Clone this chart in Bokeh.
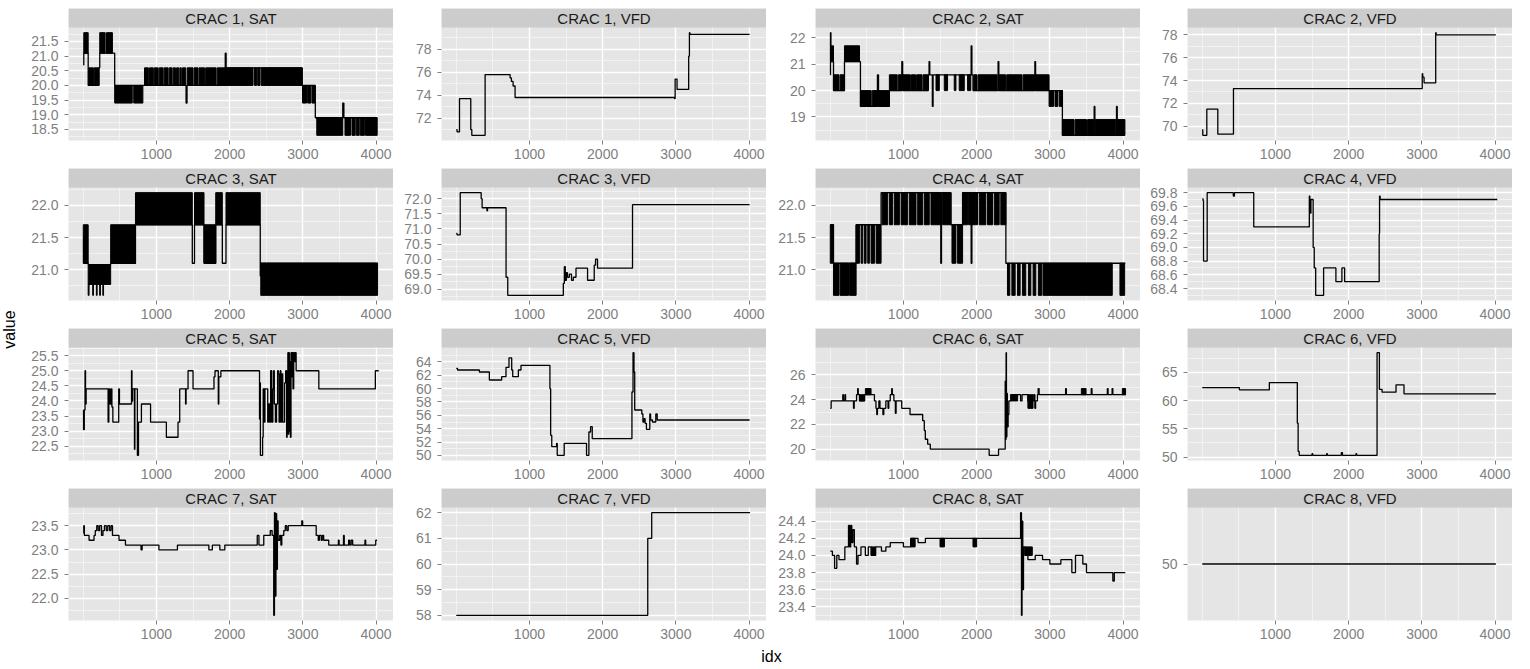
import math
from bokeh.plotting import figure
from bokeh.layouts import row, column
from bokeh.models import Range1d, FixedTicker, PrintfTickFormatter, Label
from bokeh.embed import file_html
from bokeh.resources import INLINE

# ---------------- data ----------------
x_ticks = [1000, 2000, 3000, 4000]
x_minor = [0, 500, 1500, 2500, 3500]

c1_sat_idx = [1, 8, 68, 215, 226, 430, 1405, 1418, 1940, 1952, 2990, 3170, 3545, 3560, 4015]
c1_sat_val = [20.7, 21.1, 20.0, 20.6, 21.1, 20.0, 19.4, 20.0, 21.1, 20.6, 20.0, 18.9, 19.4, 18.9, 18.9]
c1_sat_bands = [(8, 68, 21.1, 21.8), (75, 140, 20.0, 20.6), (150, 215, 20.0, 20.6),
                (226, 300, 21.1, 21.8), (318, 399, 21.1, 21.8),
                (430, 670, 19.4, 20.0), (690, 815, 19.4, 20.0),
                (837, 890, 20.0, 20.6), (905, 958, 20.0, 20.6), (972, 1025, 20.0, 20.6),
                (1040, 1092, 20.0, 20.6), (1106, 1160, 20.0, 20.6), (1175, 1215, 20.0, 20.6),
                (1230, 1260, 20.0, 20.6), (1275, 1305, 20.0, 20.6), (1320, 1340, 20.0, 20.6),
                (1356, 1400, 20.0, 20.6), (1420, 1500, 20.0, 20.6), (1515, 1568, 20.0, 20.6),
                (1582, 1658, 20.0, 20.6), (1672, 1815, 20.0, 20.6), (1830, 2320, 20.0, 20.6),
                (2340, 2368, 20.0, 20.6), (2383, 2414, 20.0, 20.6), (2430, 2990, 20.0, 20.6),
                (2995, 3050, 19.4, 20.0), (3065, 3110, 19.4, 20.0), (3125, 3165, 19.4, 20.0),
                (3190, 3545, 18.3, 18.9), (3575, 3650, 18.3, 18.9), (3670, 3715, 18.3, 18.9),
                (3730, 3770, 18.3, 18.9), (3785, 3840, 18.3, 18.9), (3855, 4015, 18.3, 18.9)]
c1_sat_ticks = [18.5, 19.0, 19.5, 20.0, 20.5, 21.0, 21.5]

c1_vfd_idx = [1, 12, 45, 199, 213, 395, 736, 754, 777, 804, 2983, 2990, 3016, 3175, 3185, 3192, 4007]
c1_vfd_val = [71.0, 70.8, 73.7, 71.0, 70.5, 75.8, 75.5, 75.2, 74.8, 73.8, 73.7, 75.4, 74.5, 77.4, 79.45, 79.3, 79.3]
c1_vfd_ticks = [72, 74, 76, 78]

c2_sat_idx = [1, 4, 10, 45, 195, 413, 645, 660, 808, 978, 990, 1340, 1350, 1360, 1395, 1405, 1925, 1935,
              1950, 2293, 2303, 2795, 2805, 2989, 3171, 3605, 3615, 3910, 3920, 4025]
c2_sat_val = [20.6, 22.2, 21.1, 20.0, 21.1, 19.4, 20.6, 19.4, 20.0, 21.1, 20.0, 20.6, 21.1, 20.6, 19.4, 20.6,
              21.7, 20.6, 20.0, 21.1, 20.0, 21.1, 20.0, 20.0, 18.3, 19.4, 18.3, 19.4, 18.3, 18.3]
c2_sat_bands = [(10, 45, 21.1, 21.7), (45, 120, 20.0, 20.6), (135, 195, 20.0, 20.6),
                (195, 400, 21.1, 21.7), (413, 560, 19.4, 20.0), (575, 640, 19.4, 20.0), (665, 808, 19.4, 20.0),
                (808, 915, 20.0, 20.6), (930, 975, 20.0, 20.6), (995, 1095, 20.0, 20.6),
                (1110, 1165, 20.0, 20.6), (1180, 1255, 20.0, 20.6), (1270, 1340, 20.0, 20.6),
                (1445, 1490, 20.0, 20.6), (1558, 1603, 20.0, 20.6), (1694, 1717, 20.0, 20.6),
                (1762, 1831, 20.0, 20.6), (1876, 1920, 20.0, 20.6), (1960, 2005, 20.0, 20.6),
                (2020, 2280, 20.0, 20.6), (2310, 2395, 20.0, 20.6), (2410, 2620, 20.0, 20.6),
                (2635, 2790, 20.0, 20.6), (2810, 2989, 20.0, 20.6),
                (2989, 3050, 19.4, 20.0), (3070, 3110, 19.4, 20.0), (3130, 3171, 19.4, 20.0),
                (3171, 3330, 18.3, 18.9), (3345, 3500, 18.3, 18.9), (3515, 3600, 18.3, 18.9),
                (3620, 3900, 18.3, 18.9), (3925, 4025, 18.3, 18.9)]
c2_sat_ticks = [19, 20, 21, 22]

c2_vfd_idx = [1, 8, 63, 213, 427, 3005, 3012, 3030, 3189, 3195, 4010]
c2_vfd_val = [69.7, 69.2, 71.5, 69.3, 73.3, 74.6, 74.3, 73.8, 78.2, 78.0, 78.0]
c2_vfd_ticks = [70, 72, 74, 76, 78]

c3_sat_idx = [1, 8, 68, 375, 714, 1490, 1520, 1650, 1810, 1900, 1950, 2418, 2425, 4020]
c3_sat_val = [21.5, 21.1, 21.08, 21.1, 21.7, 21.1, 21.7, 21.1, 21.7, 21.1, 21.7, 20.9, 21.1, 21.1]
c3_sat_bands = [(1, 68, 21.1, 21.7), (68, 375, 20.77, 21.08), (68, 80, 20.6, 20.77), (130, 140, 20.6, 20.77),
                (180, 190, 20.6, 20.77), (225, 235, 20.6, 20.77), (268, 278, 20.6, 20.77),
                (375, 714, 21.1, 21.7), (714, 1490, 21.7, 22.2), (1520, 1650, 21.7, 22.2),
                (1650, 1810, 21.1, 21.7), (1810, 1900, 21.7, 22.2), (1950, 2418, 21.7, 22.2),
                (2425, 4020, 20.6, 21.1)]
c3_sat_ticks = [21.0, 21.5, 22.0]

c3_vfd_idx = [1, 12, 55, 341, 354, 420, 428, 681, 704, 1463, 1477, 1490, 1505, 1520, 1545, 1575, 1600, 1636,
              1794, 1885, 1903, 1930, 2408, 4007]
c3_vfd_val = [70.85, 70.8, 72.2, 72.0, 71.7, 71.6, 71.7, 69.4, 68.8, 69.2, 69.75, 69.3, 69.55, 69.4, 69.5, 69.3,
              69.4, 69.7, 69.3, 69.8, 70.0, 69.7, 71.8, 71.8]
c3_vfd_ticks = [69.0, 69.5, 70.0, 70.5, 71.0, 71.5, 72.0]

c4_sat_idx = [1, 45, 354, 695, 1510, 1520, 1649, 1808, 1925, 1935, 2399, 4030]
c4_sat_val = [21.7, 21.1, 21.7, 22.2, 21.1, 22.2, 21.7, 22.2, 21.1, 22.2, 21.1, 21.1]
c4_sat_bands = [(1, 45, 21.1, 21.7), (45, 120, 20.6, 21.1), (135, 250, 20.6, 21.1), (262, 354, 20.6, 21.1),
                (354, 399, 21.1, 21.7), (422, 445, 21.1, 21.7), (467, 490, 21.1, 21.7), (513, 535, 21.1, 21.7),
                (558, 604, 21.1, 21.7), (627, 695, 21.1, 21.7),
                (709, 785, 21.7, 22.2), (808, 853, 21.7, 22.2), (876, 945, 21.7, 22.2), (968, 1058, 21.7, 22.2),
                (1081, 1172, 21.7, 22.2), (1195, 1263, 21.7, 22.2), (1285, 1353, 21.7, 22.2),
                (1376, 1505, 21.7, 22.2), (1535, 1649, 21.7, 22.2),
                (1663, 1717, 21.1, 21.7), (1740, 1808, 21.1, 21.7),
                (1808, 1876, 21.7, 22.2), (1890, 1925, 21.7, 22.2), (1935, 2012, 21.7, 22.2),
                (2035, 2126, 21.7, 22.2), (2149, 2217, 21.7, 22.2), (2240, 2308, 21.7, 22.2),
                (2330, 2399, 21.7, 22.2),
                (2421, 2453, 20.6, 21.1), (2481, 2526, 20.6, 21.1), (2557, 2594, 20.6, 21.1),
                (2625, 2671, 20.6, 21.1), (2707, 2740, 20.6, 21.1), (2771, 2808, 20.6, 21.1),
                (2843, 2890, 20.6, 21.1), (2907, 3852, 20.6, 21.1), (3957, 4021, 20.6, 21.1)]
c4_sat_ticks = [21.0, 21.5, 22.0]

c4_vfd_idx = [1, 12, 18, 68, 425, 440, 704, 1463, 1470, 1485, 1515, 1530, 1550, 1658, 1826, 1908, 1945,
              2417, 2422, 2430, 4030]
c4_vfd_val = [69.71, 69.68, 68.8, 69.8, 69.75, 69.8, 69.3, 69.75, 69.5, 69.7, 69.0, 68.7, 68.3, 68.7, 68.5,
              68.7, 68.5, 69.2, 69.75, 69.7, 69.7]
c4_vfd_ticks = [68.4, 68.6, 68.8, 69.0, 69.2, 69.4, 69.6, 69.8]

c5_sat_idx = [1, 5, 15, 25, 32, 40, 340, 350, 365, 380, 392, 405, 485, 495, 660, 666, 675, 700, 706, 740,
              755, 795, 920, 1136, 1295, 1318, 1398, 1405, 1432, 1500, 1786, 1800, 1845, 1852, 1880, 2408,
              2414, 2420, 2450, 2458, 2474, 2482, 2520, 2530, 2545, 2560, 2575, 2590, 2600, 2610, 2625, 2640,
              2655, 2665, 2675, 2690, 2700, 2712, 2725, 2750, 2765, 2778, 2785, 2795, 2800, 2808, 2815, 2822,
              2830, 2838, 2848, 2855, 2865, 2875, 2885, 2895, 2908, 3218, 3990, 4036]
c5_sat_val = [23.7, 23.05, 23.7, 25.0, 23.9, 24.4, 23.3, 24.4, 23.9, 24.4, 23.8, 23.3, 24.4, 23.9, 25.0, 24.0,
              24.4, 22.4, 24.4, 22.2, 23.3, 23.9, 23.3, 22.8, 23.3, 24.4, 23.9, 24.4, 25.0, 24.4, 24.8, 25.0,
              23.9, 24.8, 25.0, 23.4, 24.6, 22.2, 22.8, 24.4, 23.3, 24.4, 23.3, 23.9, 23.3, 25.0, 23.3, 24.4,
              25.0, 23.9, 23.3, 23.9, 25.0, 24.9, 23.3, 25.0, 23.3, 24.9, 23.3, 24.6, 25.0, 22.8, 24.4, 25.6,
              22.9, 25.6, 23.0, 25.3, 22.8, 25.6, 24.8, 25.6, 24.4, 25.6, 25.3, 25.6, 25.0, 24.4, 25.0, 25.0]
c5_sat_ticks = [22.5, 23.0, 23.5, 24.0, 24.5, 25.0, 25.5]

c5_vfd_idx = [1, 18, 317, 453, 621, 680, 721, 758, 772, 849, 885, 1280, 1290, 1305, 1371, 1380, 1475, 1780,
              1812, 1835, 1858, 2400, 2415, 2428, 2438, 2535, 2550, 2565, 2580, 2598, 2644, 2655, 2680, 2726,
              2745, 4007]
c5_vfd_val = [63.05, 62.8, 62.5, 61.3, 61.8, 63.2, 64.6, 62.8, 61.8, 62.8, 63.5, 60.0, 53.0, 51.3, 51.8, 50.0,
              51.8, 50.0, 53.5, 54.3, 52.5, 59.5, 65.4, 62.5, 56.8, 56.2, 55.0, 55.5, 54.8, 53.9, 56.2, 55.3,
              55.0, 56.2, 55.3, 55.3]
c5_vfd_ticks = [50, 52, 54, 56, 58, 60, 62, 64]

c6_sat_idx = [1, 13, 172, 180, 200, 210, 318, 328, 360, 375, 383, 400, 470, 560, 604, 625, 636, 645, 665, 680,
              720, 732, 760, 790, 800, 820, 840, 848, 870, 890, 900, 977, 1090, 1263, 1285, 1299, 1331, 1367,
              2171, 2299, 2390, 2398, 2402, 2407, 2413, 2420, 2430, 2440, 2467, 2600, 2620, 2700, 2780, 2795,
              2805, 2830, 2840, 2853, 3215, 3225, 3565, 3575, 3785, 3795, 3850, 3860, 4034]
c6_sat_val = [23.3, 23.9, 24.4, 23.9, 24.4, 23.9, 23.3, 23.9, 24.4, 24.9, 24.4, 23.9, 24.4, 24.4, 23.9, 23.3,
              22.8, 23.3, 23.9, 23.3, 22.8, 23.3, 23.9, 23.3, 23.9, 24.4, 24.9, 24.4, 23.9, 22.9, 23.9, 23.3,
              22.8, 22.3, 21.5, 20.8, 20.4, 20.0, 19.5, 20.0, 25.5, 20.8, 27.8, 21.0, 24.5, 21.8, 22.8, 23.9,
              24.4, 23.9, 24.4, 23.9, 24.4, 23.3, 23.9, 24.4, 24.9, 24.4, 24.9, 24.4, 24.9, 24.4, 24.9, 24.4,
              24.9, 24.4, 24.4]
c6_sat_bands = [(400, 468, 23.9, 24.4), (481, 558, 24.4, 24.9), (2467, 2560, 23.9, 24.4),
                (2700, 2770, 23.3, 24.4), (3430, 3494, 24.4, 24.9), (3990, 4034, 24.4, 24.9)]
c6_sat_ticks = [20, 22, 24, 26]

c6_vfd_idx = [1, 508, 917, 1299, 1310, 1325, 1500, 1510, 1700, 1710, 1900, 1915, 2100, 2110, 2388, 2420, 2456,
              2647, 2756, 4011]
c6_vfd_val = [62.3, 61.9, 63.2, 56.0, 51.0, 50.3, 50.6, 50.3, 50.6, 50.3, 50.8, 50.3, 50.6, 50.3, 68.5, 62.0,
              61.5, 62.8, 61.2, 61.2]
c6_vfd_ticks = [50, 55, 60, 65]

c7_sat_idx = [1, 8, 16, 80, 148, 165, 185, 205, 225, 250, 270, 290, 315, 335, 360, 380, 400, 489, 577, 790,
              805, 1034, 1287, 1716, 1764, 1866, 1934, 2377, 2400, 2418, 2466, 2555, 2580, 2602, 2612, 2622,
              2632, 2642, 2652, 2662, 2684, 2700, 2712, 2739, 2760, 2780, 2800, 2985, 2997, 3182, 3210, 3225,
              3250, 3265, 3284, 3353, 3485, 3495, 3555, 3565, 3625, 3640, 3660, 3680, 3848, 3858, 3995, 4013]
c7_sat_val = [23.35, 23.5, 23.3, 23.2, 23.3, 23.4, 23.5, 23.4, 23.5, 23.3, 23.4, 23.5, 23.4, 23.5, 23.4, 23.5,
              23.3, 23.2, 23.1, 23.0, 23.1, 23.0, 23.1, 23.0, 23.1, 23.0, 23.1, 23.3, 23.1, 23.1, 23.3, 23.4,
              23.3, 21.65, 23.77, 22.05, 23.75, 22.6, 23.6, 23.2, 23.3, 23.1, 23.3, 23.4, 23.5, 23.4, 23.5,
              23.6, 23.5, 23.3, 23.2, 23.3, 23.2, 23.3, 23.2, 23.1, 23.2, 23.1, 23.3, 23.1, 23.2, 23.1, 23.2,
              23.1, 23.2, 23.1, 23.2, 23.2]
c7_sat_ticks = [22.0, 22.5, 23.0, 23.5]

c7_vfd_idx = [1, 2616, 2670, 4013]
c7_vfd_val = [58.0, 61.0, 62.0, 62.0]
c7_vfd_ticks = [58, 59, 60, 61, 62]

c8_sat_idx = [1, 30, 60, 90, 120, 200, 250, 265, 280, 295, 310, 330, 360, 380, 420, 480, 520, 560, 620, 700,
              760, 820, 1000, 1100, 1200, 1300, 2600, 2612, 2620, 2630, 2640, 2660, 2700, 2800, 2900, 3000,
              3150, 3300, 3350, 3450, 3500, 3860, 3880, 4030]
c8_sat_val = [24.05, 24.0, 23.85, 24.0, 23.95, 24.1, 24.35, 24.1, 24.35, 24.15, 24.3, 24.1, 23.9, 24.0, 24.1,
              24.0, 24.1, 24.0, 24.1, 24.05, 24.1, 24.15, 24.1, 24.2, 24.15, 24.2, 24.5, 23.3, 24.4, 23.6, 24.1,
              24.0, 23.95, 24.0, 23.95, 23.9, 23.95, 23.8, 24.0, 23.9, 23.8, 23.7, 23.8, 23.8]
c8_sat_bands = [(560, 620, 24.0, 24.1), (1100, 1160, 24.1, 24.2), (1500, 1560, 24.1, 24.2),
                (1950, 2000, 24.1, 24.2), (2660, 2760, 24.0, 24.1)]
c8_sat_ticks = [23.4, 23.6, 23.8, 24.0, 24.2, 24.4]

c8_vfd_idx = [1, 4010]
c8_vfd_val = [50.0, 50.0]
c8_vfd_ticks = [50]
c8_vfd_limits = (45.0, 55.0)

panels = [
    ("CRAC 1, SAT", c1_sat_idx, c1_sat_val, c1_sat_bands, c1_sat_ticks, "%.1f", None),
    ("CRAC 1, VFD", c1_vfd_idx, c1_vfd_val, [], c1_vfd_ticks, "%d", None),
    ("CRAC 2, SAT", c2_sat_idx, c2_sat_val, c2_sat_bands, c2_sat_ticks, "%d", None),
    ("CRAC 2, VFD", c2_vfd_idx, c2_vfd_val, [], c2_vfd_ticks, "%d", None),
    ("CRAC 3, SAT", c3_sat_idx, c3_sat_val, c3_sat_bands, c3_sat_ticks, "%.1f", None),
    ("CRAC 3, VFD", c3_vfd_idx, c3_vfd_val, [], c3_vfd_ticks, "%.1f", None),
    ("CRAC 4, SAT", c4_sat_idx, c4_sat_val, c4_sat_bands, c4_sat_ticks, "%.1f", None),
    ("CRAC 4, VFD", c4_vfd_idx, c4_vfd_val, [], c4_vfd_ticks, "%.1f", None),
    ("CRAC 5, SAT", c5_sat_idx, c5_sat_val, [], c5_sat_ticks, "%.1f", None),
    ("CRAC 5, VFD", c5_vfd_idx, c5_vfd_val, [], c5_vfd_ticks, "%d", None),
    ("CRAC 6, SAT", c6_sat_idx, c6_sat_val, c6_sat_bands, c6_sat_ticks, "%d", None),
    ("CRAC 6, VFD", c6_vfd_idx, c6_vfd_val, [], c6_vfd_ticks, "%d", None),
    ("CRAC 7, SAT", c7_sat_idx, c7_sat_val, [], c7_sat_ticks, "%.1f", None),
    ("CRAC 7, VFD", c7_vfd_idx, c7_vfd_val, [], c7_vfd_ticks, "%d", None),
    ("CRAC 8, SAT", c8_sat_idx, c8_sat_val, c8_sat_bands, c8_sat_ticks, "%.1f", None),
    ("CRAC 8, VFD", c8_vfd_idx, c8_vfd_val, [], c8_vfd_ticks, "%d", c8_vfd_limits),
]

# ---------------- layout / style ----------------
FONT = "Liberation Sans"
PANEL_BG = "#e5e5e5"
STRIP_BG = "#cccccc"
MINOR = "#f2f2f2"
AXIS_TXT = "#7f7f7f"
VALUE_W = 22
LEFTS = [46, 48, 49, 47]
FRAME_W = 325
PANEL_H = 113
STRIP_H = 19
BOTTOM = 27
TOP0 = 8

all_x = [v for pnl in panels for v in pnl[1]]
xmin, xmax = min(all_x), max(all_x)
xpad = 0.05 * (xmax - xmin)
XLIM = (xmin - xpad, xmax + xpad)


def minors(t):
    if len(t) < 2:
        return []
    s = t[1] - t[0]
    return [t[0] - s / 2 + k * s for k in range(len(t) + 1)]


def panel(r, col, title, xs, ys, bands, ticks, fmt, limits):
    lo_vals = list(ys) + [b[2] for b in bands]
    hi_vals = list(ys) + [b[3] for b in bands]
    if limits is None:
        lo, hi = min(lo_vals), max(hi_vals)
        pad = 0.05 * (hi - lo)
        limits = (lo - pad, hi + pad)
    lo, hi = limits
    top = hi + (hi - lo) * STRIP_H / PANEL_H
    border_top = TOP0 if r == 0 else 1
    p = figure(width=LEFTS[col] + FRAME_W, height=border_top + STRIP_H + PANEL_H + BOTTOM,
               x_range=Range1d(*XLIM), y_range=Range1d(lo, top), toolbar_location=None, tools="",
               output_backend="svg", min_border_left=LEFTS[col], min_border_right=0,
               min_border_top=border_top, min_border_bottom=BOTTOM)
    p.background_fill_color = PANEL_BG
    p.border_fill_color = "white"
    p.outline_line_color = None

    xt = FixedTicker(ticks=x_ticks, minor_ticks=x_minor)
    yt = FixedTicker(ticks=ticks, minor_ticks=minors(ticks))
    p.xaxis.ticker = xt
    p.yaxis.ticker = yt
    p.xgrid.ticker = xt
    p.ygrid.ticker = yt
    p.xaxis.formatter = PrintfTickFormatter(format="%d")
    p.yaxis.formatter = PrintfTickFormatter(format=fmt)
    for g in (p.xgrid, p.ygrid):
        g.grid_line_color = "white"
        g.grid_line_width = 1.4
        g.minor_grid_line_color = MINOR
        g.minor_grid_line_width = 1
    for a in (p.xaxis, p.yaxis):
        a.axis_line_color = None
        a.major_tick_line_color = AXIS_TXT
        a.major_tick_in = 0
        a.major_tick_out = 4
        a.minor_tick_line_color = None
        a.major_label_text_color = AXIS_TXT
        a.major_label_text_font = FONT
        a.major_label_text_font_size = "14px"
    p.yaxis.major_label_standoff = 6
    p.xaxis.major_label_standoff = 4

    if bands:
        p.quad(left=[b[0] for b in bands], right=[b[1] for b in bands],
               bottom=[b[2] for b in bands], top=[b[3] for b in bands],
               fill_color="black", line_color="black", line_width=1)
    p.step(x=xs, y=ys, mode="after", line_color="black", line_width=1.3)

    # facet strip on top of the panel
    p.quad(left=[XLIM[0]], right=[XLIM[1]], bottom=[hi], top=[top], fill_color=STRIP_BG, line_color=None)
    p.add_layout(Label(x=(XLIM[0] + XLIM[1]) / 2, y=(hi + top) / 2, text=title, text_align="center",
                       text_baseline="middle", text_font=FONT, text_font_size="15px", text_color="#1a1a1a"))
    return p


rows = []
for r in range(4):
    plots = []
    for c in range(4):
        title, xs, ys, bands, ticks, fmt, limits = panels[r * 4 + c]
        plots.append(panel(r, c, title, xs, ys, bands, ticks, fmt, limits))
    rows.append(row(*plots, spacing=0))

row_h = 1 + STRIP_H + PANEL_H + BOTTOM
grid_h = TOP0 + STRIP_H + PANEL_H + BOTTOM + 3 * row_h
value_fig = figure(width=VALUE_W, height=grid_h, x_range=Range1d(0, VALUE_W), y_range=Range1d(0, grid_h),
                   toolbar_location=None, tools="", output_backend="svg", x_axis_type=None, y_axis_type=None,
                   min_border=0)
value_fig.outline_line_color = None
value_fig.grid.visible = False
value_fig.add_layout(Label(x=9, y=grid_h - 329, text="value", angle=math.pi / 2, text_align="center",
                           text_baseline="middle", text_font=FONT, text_font_size="16px", text_color="black"))

total_w = VALUE_W + sum(LEFTS) + 4 * FRAME_W
idx_fig = figure(width=total_w, height=18, x_range=Range1d(0, total_w), y_range=Range1d(0, 18),
                 toolbar_location=None, tools="", output_backend="svg", x_axis_type=None, y_axis_type=None,
                 min_border=0)
idx_fig.outline_line_color = None
idx_fig.grid.visible = False
idx_fig.add_layout(Label(x=771, y=9, text="idx", text_align="center", text_baseline="middle",
                         text_font=FONT, text_font_size="16px", text_color="black"))

layout = column(row(value_fig, column(*rows, spacing=0), spacing=0), idx_fig, spacing=0)

open("out.html", "w").write(file_html(layout, INLINE))
